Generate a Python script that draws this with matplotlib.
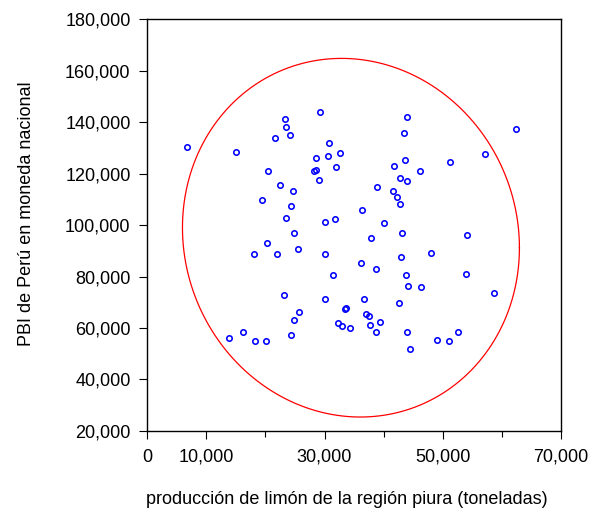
import matplotlib.pyplot as plt
from matplotlib.ticker import FixedLocator, FuncFormatter
import numpy as np

plt.rcParams['font.family'] = ['Liberation Sans', 'DejaVu Sans']

# limon production (t) vs GDP
limon = [6700, 15000, 23300, 23550, 24200, 21600, 29300, 30800, 32700, 28600,
         30600, 32000, 28200, 28600, 29000, 20500, 22400, 24600, 19400, 24300,
         23400, 30100, 31800, 24900, 20200, 18000, 21900, 25500, 30000,
         44000, 43500, 43600, 41800, 51300, 57100, 62400, 46200, 42700, 43900,
         38900, 41600, 42300, 42800, 36400, 40000, 37900, 43100, 54100, 43000,
         48000,
         31400, 23200, 30100, 33400, 33600, 25700, 24900, 32200, 32900, 34300,
         13800, 16200, 18300, 20100, 24300,
         36100, 38700, 43800, 44200, 46400, 54000, 58700, 36700, 42600, 37000,
         37500, 39400, 37700, 38700, 44000, 44500, 49000, 51100, 52600]
pbi = [130400, 128600, 141200, 138200, 134900, 133800, 144000, 131900, 128000, 126100,
       126900, 122400, 121000, 121400, 117700, 120900, 115500, 113200, 109700, 107300,
       102600, 101300, 102200, 96900, 93100, 88600, 88600, 90600, 88700,
       142200, 135800, 125300, 123100, 124700, 127800, 137400, 120900, 118200, 117100,
       114800, 113200, 110900, 108100, 105800, 100800, 94900, 96900, 96000, 87700,
       89200,
       80800, 73000, 71200, 67400, 67700, 66300, 63300, 61800, 60700, 60000,
       56300, 58600, 54800, 54800, 57400,
       85200, 83000, 80800, 76500, 76000, 80900, 73500, 71400, 69800, 65500,
       64600, 62500, 61000, 58600, 58500, 51900, 55400, 54800, 58500]

# confidence ellipse: centre, half extents, correlation
ell_center = (34470, 95100)
ell_half = (28500, 69700)
ell_r = -0.056

x_major = [0, 10000, 30000, 50000, 70000]
x_minor = [20000, 40000, 60000]
y_ticks = list(range(20000, 180001, 20000))


def main():
    fig = plt.figure(figsize=(5.92, 5.13), dpi=100)
    ax = fig.add_axes([0.2486, 0.16, 0.6990, 0.8024])

    t = np.linspace(0, 2 * np.pi, 400)
    ex = ell_center[0] + ell_half[0] * np.cos(t)
    ey = ell_center[1] + ell_half[1] * (ell_r * np.cos(t) + np.sqrt(1 - ell_r ** 2) * np.sin(t))
    ax.plot(ex, ey, color='#ff0000', lw=0.9)

    ax.plot(limon, pbi, 'o', ms=3.9, mfc='none', mec='#0000ff', mew=1.15)

    ax.set_xlim(0, 70000)
    ax.set_ylim(20000, 180000)
    ax.xaxis.set_major_locator(FixedLocator(x_major))
    ax.xaxis.set_minor_locator(FixedLocator(x_minor))
    ax.yaxis.set_major_locator(FixedLocator(y_ticks))
    fmt = FuncFormatter(lambda v, p: f'{int(v):,}')
    ax.xaxis.set_major_formatter(fmt)
    ax.yaxis.set_major_formatter(fmt)

    ax.tick_params(axis='both', which='major', direction='out', length=6, width=0.8,
                   labelsize=13, colors='black')
    ax.tick_params(axis='x', which='major', pad=7)
    ax.tick_params(axis='y', which='major', pad=6)
    ax.tick_params(axis='x', which='minor', direction='out', length=4, width=0.8)
    for s in ax.spines.values():
        s.set_linewidth(1.0)

    ax.set_xlabel('producción de limón de la región piura (toneladas)', fontsize=13)
    ax.set_ylabel('PBI de Perú en moneda nacional', fontsize=13)
    ax.xaxis.set_label_coords(0.482, -0.145)
    ax.yaxis.set_label_coords(-0.27, 0.527)

    fig.savefig('out.png', dpi=100)


if __name__ == '__main__':
    main()
